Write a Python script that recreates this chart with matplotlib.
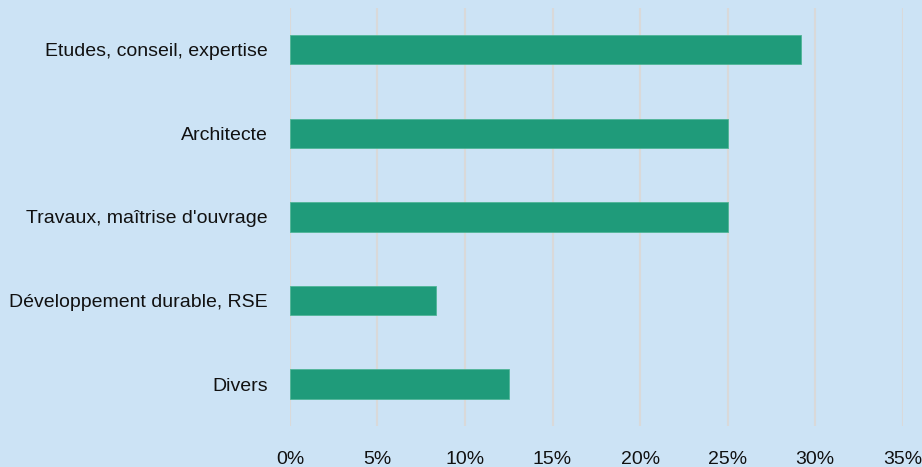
import matplotlib.pyplot as plt
from matplotlib.ticker import FuncFormatter

categories = ['Etudes, conseil, expertise', 'Architecte', "Travaux, maîtrise d'ouvrage",
              'Développement durable, RSE', 'Divers']
values = [29.17, 25.0, 25.0, 8.33, 12.5]
xticks = [0, 5, 10, 15, 20, 25, 30, 35]

bg = '#cce3f5'
bar_color = '#1f9b7a'

plt.rcParams['font.family'] = ['Liberation Sans', 'DejaVu Sans']

fig = plt.figure(figsize=(9.22, 4.67), dpi=100, facecolor=bg)
ax = fig.add_axes([0.3145, 0.088, 0.979 - 0.3145, 0.983 - 0.088])
ax.set_facecolor(bg)

y = list(range(len(categories)))
ax.barh(y, values, height=0.35, color=bar_color, edgecolor='#4fb597', linewidth=0.6, zorder=3)

ax.set_ylim(len(categories) - 0.5, -0.5)
ax.set_xlim(0, 35)
ax.set_yticks(y)
ax.set_yticklabels(categories)
ax.set_xticks(xticks)
ax.xaxis.set_major_formatter(FuncFormatter(lambda v, p: f'{v:.0f}%'))

ax.grid(axis='x', color='#d9d9d9', linewidth=1.5, zorder=0)
ax.grid(axis='y', visible=False)
for s in ax.spines.values():
    s.set_visible(False)
ax.tick_params(axis='both', length=0, labelsize=14, colors='#111111')
ax.tick_params(axis='y', pad=16)
ax.tick_params(axis='x', pad=18)

fig.savefig('out.png', dpi=100, facecolor=bg)
